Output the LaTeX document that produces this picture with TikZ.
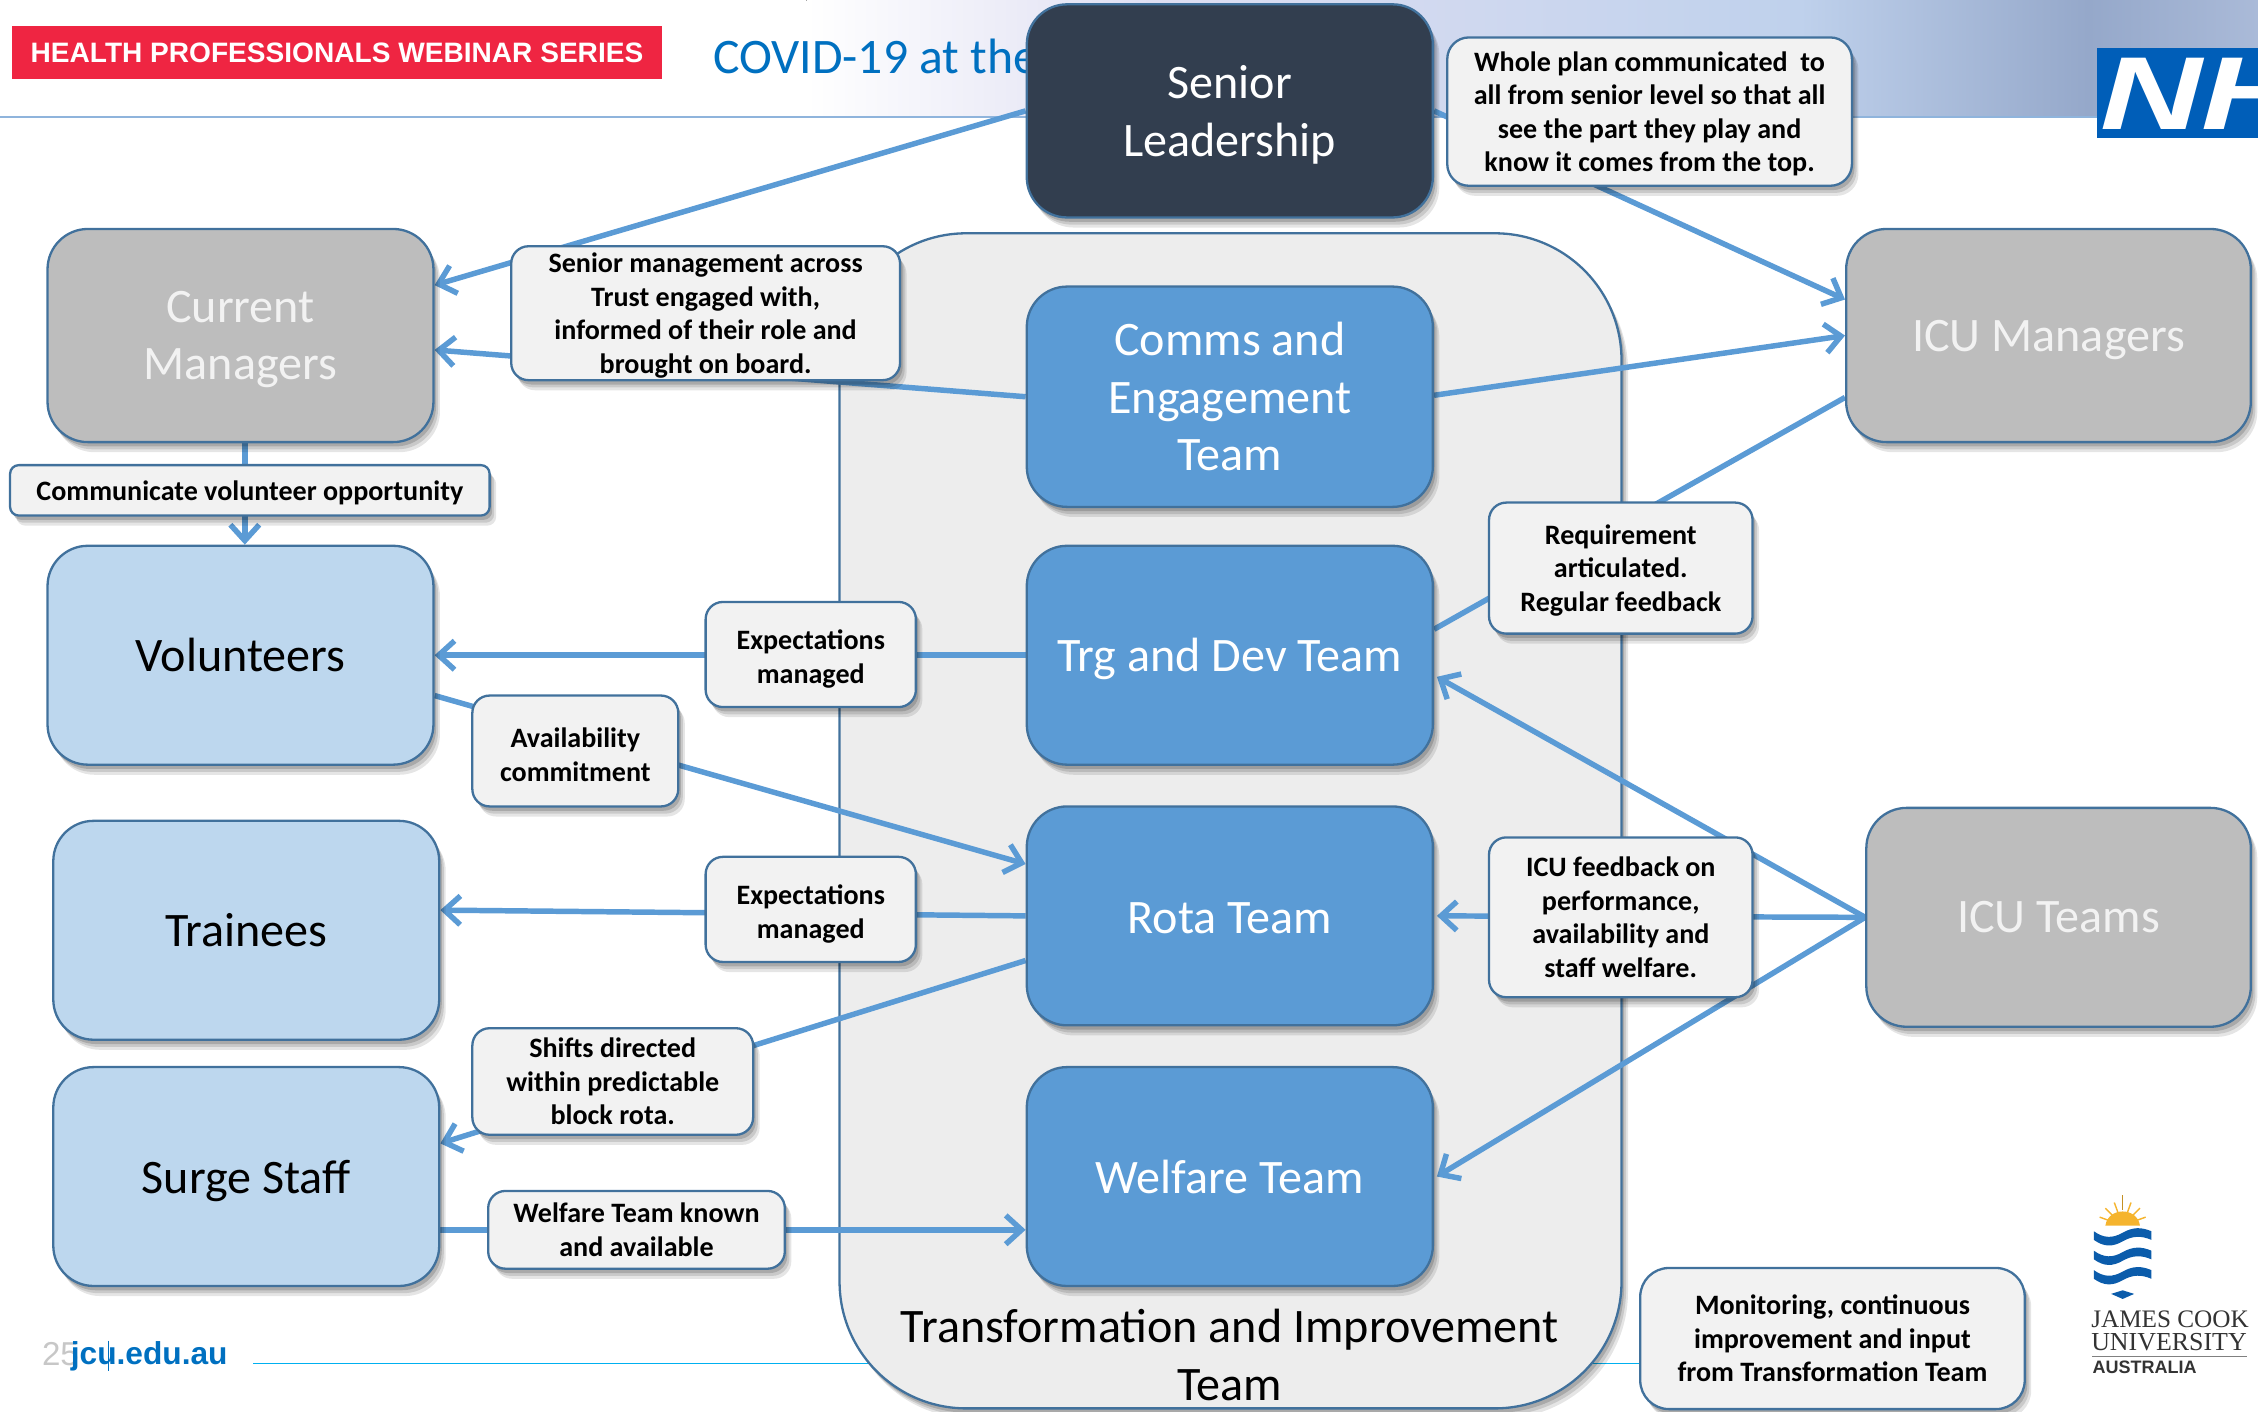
\documentclass[tikz,border=0pt]{standalone}
\usepackage{fontspec}
\setmainfont{Carlito}
\newfontfamily\arialf{Liberation Sans}
\newfontfamily\timesf{Liberation Serif}
\usetikzlibrary{arrows.meta,shadows,calc}
\definecolor{edgeblue}{HTML}{41719C}
\definecolor{connblue}{HTML}{5B9BD5}
\definecolor{darkbox}{HTML}{323E4F}
\definecolor{greybox}{HTML}{BDBDBD}
\definecolor{lightbox}{HTML}{BDD7EE}
\definecolor{calloutfill}{HTML}{F2F2F2}
\definecolor{bigfill}{HTML}{EDEDED}
\definecolor{titleblue}{HTML}{0070C0}
\definecolor{redbar}{HTML}{EF2542}
\definecolor{nhsblue}{HTML}{005EB8}
\definecolor{jcublue}{HTML}{0B5CAB}
\definecolor{jcusun}{HTML}{F5B42E}
\pgfdeclarelayer{bg}
\pgfdeclarelayer{conn}
\pgfsetlayers{bg,conn,main}
\tikzset{
  softshadow/.style={
    drop shadow={shadow xshift=4.5pt,shadow yshift=-7pt,opacity=.10,fill=black},
    drop shadow={shadow xshift=3.2pt,shadow yshift=-5pt,opacity=.12,fill=black},
    drop shadow={shadow xshift=1.8pt,shadow yshift=-3pt,opacity=.16,fill=black}},
  teambox/.style={draw=edgeblue,line width=1.6pt,rounded corners=28pt,softshadow,inner sep=0pt,align=center,
     font=\fontsize{33.4}{40}\selectfont},
  darkteam/.style={teambox,fill=darkbox,text=white},
  blueteam/.style={teambox,fill=connblue,text=white},
  greyteam/.style={teambox,fill=greybox,text=calloutfill},
  lightteam/.style={teambox,fill=lightbox,text=black},
  callout/.style={draw=edgeblue,line width=1.6pt,rounded corners=12pt,softshadow,fill=calloutfill,text=black,inner sep=0pt,align=center,
     font=\fontsize{19.5}{23.3}\selectfont\bfseries},
  dropdesc/.style={text depth=0pt},
  link/.style={draw=connblue,line width=3.8pt},
  linkarrow/.style={link,-{Straight Barb[length=11pt,width=20pt,line width=3.8pt]}},
}
\begin{document}
\begin{tikzpicture}[x=1pt,y=-1pt]
\useasboundingbox (0,0) rectangle (1568,980);
\begin{pgfonlayer}{bg}
  % header band
  \fill[left color=white,right color=white] (0,0) rectangle (560,81);
  \fill[left color=white,right color=blue!8!white!95!black] (560,0) rectangle (800,81);
  \fill[left color=blue!8!white!95!black,right color={rgb,255:red,191;green,209;blue,236}] (800,0) rectangle (1250,81);
  \fill[left color={rgb,255:red,191;green,209;blue,236},right color={rgb,255:red,149;green,168;blue,202}] (1250,0) rectangle (1450,81);
  \fill[left color={rgb,255:red,149;green,168;blue,202},right color={rgb,255:red,170;green,186;blue,216}] (1450,0) rectangle (1568,81);
  \draw[color={rgb,255:red,143;green,180;blue,220},line width=1.2pt] (0,81) -- (1568,81);
  \draw[color={rgb,255:red,0;green,176;blue,240},line width=1pt] (176,947) -- (1145,947);
  \node[draw=edgeblue,line width=1.6pt,rounded corners=88pt,fill=bigfill,softshadow,minimum width=543,minimum height=816,inner sep=0pt] (big) at (854.5,570) {};
  \node[anchor=center,align=center,text=black,font=\fontsize{33.4}{40}\selectfont] (bigtext) at (854,941) {Transformation and Improvement\\Team};
  \node[anchor=west,text=titleblue,inner sep=0pt,font=\fontsize{34.5}{40}\selectfont] (title) at (495,39) {COVID-19 at the};
\end{pgfonlayer}
\node[fill=redbar,minimum width=452,minimum height=37,inner sep=0pt,text=white,font=\arialf\bfseries\fontsize{19.5}{24}\selectfont] (series) at (234,36.5) {HEALTH PROFESSIONALS WEBINAR SERIES};
% NHS logo
\node[fill=nhsblue,minimum width=112,minimum height=63,inner sep=0pt] (nhsbox) at (1512,64.5) {};
\begin{scope}
  \clip (1456,33) rectangle (1568,96);
  \node[anchor=west,inner sep=0pt,text=white,xscale=1.36,transform shape,font=\arialf\bfseries\itshape\fontsize{72}{72}\selectfont] (nhs) at (1458,65) {NH};
\end{scope}
% team boxes
\node[darkteam,dropdesc,minimum width=282,minimum height=148] (sl) at (854,77) {Senior\\Leadership};
\node[blueteam,minimum width=282,minimum height=153] (comms) at (854,275.5) {Comms and\\Engagement\\Team};
\node[blueteam,dropdesc,minimum width=282,minimum height=152] (trg) at (854,455) {Trg and Dev Team};
\node[blueteam,text height=25pt,minimum width=282,minimum height=152] (rota) at (854,636) {Rota Team};
\node[blueteam,minimum width=282,minimum height=152] (wf) at (854,817) {Welfare Team};
\node[greyteam,dropdesc,minimum width=268,minimum height=148] (cm) at (167,233) {Current\\Managers};
\node[greyteam,dropdesc,minimum width=281,minimum height=148] (im) at (1422.5,233) {ICU Managers};
\node[greyteam,minimum width=267,minimum height=152] (it) at (1429.5,637) {ICU Teams};
\node[lightteam,minimum width=268,minimum height=152] (vol) at (167,455) {Volunteers};
\node[lightteam,minimum width=268,minimum height=152] (tr) at (171,646) {Trainees};
\node[lightteam,dropdesc,minimum width=268,minimum height=152] (surge) at (171,817) {Surge Staff};
% callouts
\node[callout,dropdesc,minimum width=270,minimum height=93] (c1) at (490,217.5) {Senior management across\\Trust engaged with,\\informed of their role and\\brought on board.};
\node[callout,dropdesc,rounded corners=15pt,minimum width=281,minimum height=103] (c2) at (1145.5,77.5) {Whole plan communicated \ to\\all from senior level so that all\\see the part they play and\\know it comes from the top.};
\node[callout,dropdesc,rounded corners=6pt,minimum width=333,minimum height=35] (c3) at (173.5,340.5) {Communicate volunteer opportunity};
\node[callout,text height=43.5pt,minimum width=146,minimum height=73] (c4) at (563,454.5) {Expectations\\managed};
\node[callout,text height=43.5pt,minimum width=146,minimum height=73] (c6) at (563,631.5) {Expectations\\managed};
\node[callout,text height=42.5pt,minimum width=143,minimum height=77] (c5) at (399.5,521.5) {Availability\\commitment};
\node[callout,minimum width=195,minimum height=74] (c7) at (425.5,751) {Shifts directed\\within predictable\\block rota.};
\node[callout,minimum width=206,minimum height=54] (c8) at (442,854) {Welfare Team known\\and available};
\node[callout,dropdesc,minimum width=183,minimum height=91] (c9) at (1125.5,394.5) {Requirement\\articulated.\\Regular feedback};
\node[callout,minimum width=183,minimum height=111] (c10) at (1125.5,637) {ICU feedback on\\performance,\\availability and\\staff welfare.};
\node[callout,rounded corners=20pt,minimum width=267,minimum height=98] (c11) at (1272.5,929.5) {Monitoring, continuous\\improvement and input\\from Transformation Team};
% connectors
\begin{pgfonlayer}{conn}
  \draw[linkarrow] (sl.west) -- ([yshift=35pt]cm.east);
  \draw[linkarrow] (sl.east) -- ([yshift=25pt]im.west);
  \draw[linkarrow] (comms.west) -- ([yshift=-10pt]cm.east);
  \draw[linkarrow] ([yshift=1pt]comms.east) -- (im.west);
  \draw[link] ([yshift=-43pt]im.west) -- ([yshift=18pt]trg.east);
  \draw[linkarrow] (trg.west) -- (vol.east);
  \draw[linkarrow] ([yshift=-28pt]vol.east) -- ([yshift=36pt]rota.west);
  \draw[linkarrow] (rota.west) -- ([yshift=14pt]tr.east);
  \draw[linkarrow] ([yshift=-31pt]rota.west) -- ([yshift=23pt]surge.east);
  \draw[linkarrow] ([yshift=-37pt]surge.east) -- ([yshift=-37pt]wf.west);
  \draw[linkarrow] ([xshift=3pt]cm.south) -- ([xshift=3pt]vol.north);
  \draw[linkarrow] (it.west) -- ([xshift=2pt,yshift=-15pt]trg.east);
  \draw[linkarrow] (it.west) -- ([xshift=2pt]rota.east);
  \draw[linkarrow] (it.west) -- ([xshift=2pt]wf.east);
\end{pgfonlayer}
% footer
\node[anchor=west,inner sep=0pt,text=black!22,font=\arialf\fontsize{23}{26}\selectfont] (pagenum) at (29,940) {25};
\node[anchor=west,inner sep=0pt,text=titleblue,font=\arialf\bfseries\fontsize{22}{26}\selectfont] (jcuurl) at (49,942) {jcu.edu.au};
\draw[titleblue,line width=.8pt] (75.5,931) -- (75.5,952);
% JCU logo
\fill[jcusun] (1462,851) .. controls (1464,838) and (1484,838) .. (1486,851) -- cycle;
\foreach \a in {20,45,70,110,135,160}
  \draw[jcusun,line width=1pt] ({1474+9*cos(\a)},{851-9*sin(\a)}) -- ({1474+17*cos(\a)},{851-17*sin(\a)});
\draw[jcusun!80!black,line width=1pt] (1474,840) -- (1474,830);
\foreach \dy in {0,13.5,27}
  \fill[jcublue,shift={(0,\dy)}] (1454,855) .. controls (1461,860) and (1467,860) .. (1474,856) .. controls (1481,852) and (1487,852) .. (1494,855) -- (1494,861) .. controls (1487,858) and (1481,858) .. (1474,862) .. controls (1467,866) and (1461,866) .. (1454,861) -- cycle;
\fill[jcublue] (1466,898.5) -- (1474,896) -- (1482,898.5) -- (1474,902) -- cycle;
\node[anchor=west,inner sep=0pt,text=black!80,font=\timesf\fontsize{17.5}{18}\selectfont] (jcu1) at (1452,916) {JAMES COOK};
\node[anchor=west,inner sep=0pt,text=black!80,font=\timesf\fontsize{18}{18}\selectfont] (jcu2) at (1452,932) {UNIVERSITY};
\draw[black!50,line width=.6pt] (1453,942) -- (1560,942);
\node[anchor=west,inner sep=0pt,text=black!80,font=\arialf\bfseries\fontsize{12.5}{13}\selectfont] (jcu3) at (1453,949.5) {AUSTRALIA};
\end{tikzpicture}
\end{document}
